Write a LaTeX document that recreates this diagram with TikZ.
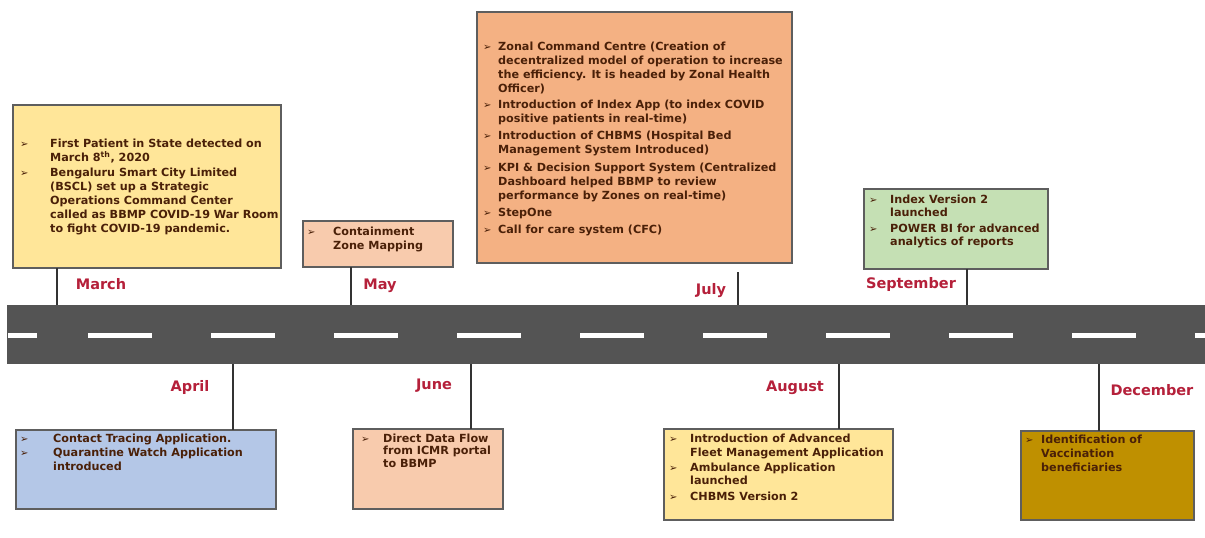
\documentclass[tikz,border=0pt]{standalone}
\usepackage{fontspec}
\setmainfont{DejaVu Sans}
\definecolor{cyel}{HTML}{FFE699}
\definecolor{cpeach}{HTML}{F8CBAD}
\definecolor{corange}{HTML}{F4B183}
\definecolor{cgreen}{HTML}{C5E0B4}
\definecolor{cblue}{HTML}{B4C7E7}
\definecolor{cgold}{HTML}{BF9000}
\definecolor{roadc}{HTML}{545454}
\definecolor{txtc}{HTML}{4A2008}
\definecolor{monc}{HTML}{B5203A}
\definecolor{linec}{HTML}{5E5E5E}
\definecolor{tickc}{HTML}{333333}
\newcommand\bl{{\fontsize{10}{14}\selectfont ➢}}
\begin{document}
\begin{tikzpicture}[x=1pt,y=-1pt,
  box/.style={draw=linec, line width=1.1pt, anchor=north west, inner sep=0pt, outer sep=0pt},
  txt/.style={anchor=north west, inner sep=0pt, text=txtc, font=\fontsize{11.2}{14}\selectfont\bfseries},
  mon/.style={text=monc, font=\fontsize{14.5}{16}\selectfont\bfseries},
  tick/.style={draw=tickc, line width=1.6pt}]
\useasboundingbox (0,0) rectangle (1205,538);
\fill[white] (0,0) rectangle (1205,538);

% road
\node[fill=roadc, minimum width=1198pt, minimum height=59pt, anchor=north west, inner sep=0pt, outer sep=0pt] (road) at (7,305) {};
\fill[white] (8,332.5) rectangle (37,337.5);
\foreach \x in {88,211,334,457,580,703,826,949,1072} {\fill[white] (\x,332.5) rectangle ++(64,5);}
\fill[white] (1195,332.5) rectangle (1205,337.5);

% ---- upper boxes
\node[box, fill=cyel, minimum width=268pt, minimum height=163pt] (marbox) at (13,105) {};
\node[txt] (martxt) at (20,137.4) {\begin{tabular}{@{}p{30pt}@{}l@{}}
\bl & First Patient in State detected on\\
 & March 8\textsuperscript{th}, 2020\\[1pt]
\bl & Bengaluru Smart City Limited\\
 & (BSCL) set up a Strategic\\
 & Operations Command Center\\
 & called as BBMP COVID-19 War Room\\
 & to fight COVID-19 pandemic.
\end{tabular}};

\node[box, fill=cpeach, minimum width=150pt, minimum height=46pt] (maybox) at (303,221) {};
\node[txt] (maytxt) at (307,225.4) {\begin{tabular}{@{}p{26pt}@{}l@{}}
\bl & Containment\\
 & Zone Mapping
\end{tabular}};

\node[box, fill=corange, minimum width=315pt, minimum height=251pt] (julbox) at (477,12) {};
\node[txt] (jultxt) at (483,40.4) {\begin{tabular}{@{}p{15pt}@{}l@{}}
\bl & Zonal Command Centre (Creation of\\
 & decentralized model of operation to increase\\
 & the efficiency. It is headed by Zonal Health\\
 & Officer)\\[2.5pt]
\bl & Introduction of Index App (to index COVID\\
 & positive patients in real-time)\\[2.5pt]
\bl & Introduction of CHBMS (Hospital Bed\\
 & Management System Introduced)\\[4pt]
\bl & KPI \& Decision Support System (Centralized\\
 & Dashboard helped BBMP to review\\
 & performance by Zones on real-time)\\[3pt]
\bl & StepOne\\[3pt]
\bl & Call for care system (CFC)
\end{tabular}};

\node[box, fill=cgreen, minimum width=184pt, minimum height=80pt] (sepbox) at (864,189) {};
\node[txt] (septxt) at (869,193.4) {\begin{tabular}{@{}p{21pt}@{}l@{}}
\bl & Index Version 2\\[-1pt]
 & launched\\[2pt]
\bl & POWER BI for advanced\\[-1pt]
 & analytics of reports
\end{tabular}};

% ---- lower boxes
\node[box, fill=cblue, minimum width=260pt, minimum height=79pt] (aprbox) at (16,430) {};
\node[txt] (aprtxt) at (20,432.4) {\begin{tabular}{@{}p{33pt}@{}l@{}}
\bl & Contact Tracing Application.\\
\bl & Quarantine Watch Application\\
 & introduced
\end{tabular}};

\node[box, fill=cpeach, minimum width=150pt, minimum height=80pt] (junbox) at (353,429) {};
\node[txt] (juntxt) at (361,432.4) {\begin{tabular}{@{}p{22pt}@{}l@{}}
\bl & Direct Data Flow\\[-1.5pt]
 & from ICMR portal\\[-1.5pt]
 & to BBMP
\end{tabular}};

\node[box, fill=cyel, minimum width=229pt, minimum height=91pt] (augbox) at (664,429) {};
\node[txt] (augtxt) at (669,432.4) {\begin{tabular}{@{}p{21pt}@{}l@{}}
\bl & Introduction of Advanced\\
 & Fleet Management Application\\[1pt]
\bl & Ambulance Application\\[-1pt]
 & launched\\[2pt]
\bl & CHBMS Version 2
\end{tabular}};

\node[box, fill=cgold, minimum width=173pt, minimum height=89pt] (decbox) at (1021,431) {};
\node[txt] (dectxt) at (1025,433.4) {\begin{tabular}{@{}p{16pt}@{}l@{}}
\bl & Identification of\\
 & Vaccination\\
 & beneficiaries
\end{tabular}};

% ---- ticks
\coordinate (tmar) at (57,0);
\coordinate (tmay) at (351,0);
\coordinate (tjul) at (738,272);
\coordinate (tsep) at (967,0);
\coordinate (tapr) at (233,0);
\coordinate (tjun) at (471,0);
\coordinate (taug) at (839,0);
\coordinate (tdec) at (1099,0);
\draw[tick] (marbox.south -| tmar) -- (road.north -| tmar);
\draw[tick] (maybox.south -| tmay) -- (road.north -| tmay);
\draw[tick] (tjul) -- (road.north -| tjul);
\draw[tick] (sepbox.south -| tsep) -- (road.north -| tsep);
\draw[tick] (road.south -| tapr) -- (aprbox.north -| tapr);
\draw[tick] (road.south -| tjun) -- (junbox.north -| tjun);
\draw[tick] (road.south -| taug) -- (augbox.north -| taug);
\draw[tick] (road.south -| tdec) -- (decbox.north -| tdec);

% ---- month labels
\node[mon] (lmar) at (101,284) {March};
\node[mon] (lmay) at (380,286) {May};
\node[mon] (ljul) at (711,291) {July};
\node[mon] (lsep) at (911,284) {September};
\node[mon] (lapr) at (190,387) {April};
\node[mon] (ljun) at (434,386) {June};
\node[mon] (laug) at (795,388) {August};
\node[mon] (ldec) at (1152,390) {December};
\end{tikzpicture}
\end{document}
